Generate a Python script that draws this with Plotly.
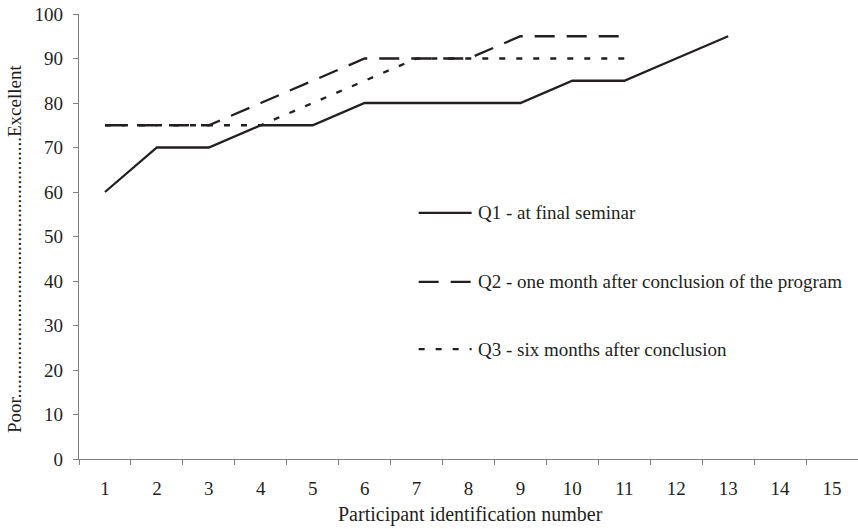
import plotly.graph_objects as go

participants = [str(i) for i in range(1, 16)]
q1_x = [str(i) for i in range(1, 14)]
q1 = [60, 70, 70, 75, 75, 80, 80, 80, 80, 85, 85, 90, 95]
q2_x = [str(i) for i in range(1, 12)]
q2 = [75, 75, 75, 80, 85, 90, 90, 90, 95, 95, 95]
q3_x = [str(i) for i in range(1, 12)]
q3 = [75, 75, 75, 75, 80, 85, 90, 90, 90, 90, 90]
y_ticks = list(range(0, 101, 10))

names = ["Q1 - at final seminar",
         "Q2 - one month after conclusion of the program",
         "Q3 - six months after conclusion"]
dashes = ["solid", "20px,12px", "6px,11px"]
ink = "#231f20"
FONT = "Liberation Serif"

fig = go.Figure()
for xs, ys, nm, d in [(q1_x, q1, names[0], dashes[0]),
                      (q2_x, q2, names[1], dashes[1]),
                      (q3_x, q3, names[2], dashes[2])]:
    fig.add_trace(go.Scatter(x=xs, y=ys, mode="lines", name=nm,
                             line=dict(color=ink, width=2.3, dash=d),
                             showlegend=False))

# legend drawn inside plot area
leg_y = [0.553, 0.398, 0.247]
shapes = []
annotations = []
for nm, d, yy in zip(names, dashes, leg_y):
    shapes.append(dict(type="line", xref="paper", yref="paper",
                       x0=0.436, x1=0.504, y0=yy, y1=yy,
                       line=dict(color=ink, width=2.3, dash=d)))
    annotations.append(dict(xref="paper", yref="paper", x=0.509, y=yy,
                            text=nm, showarrow=False, xanchor="left",
                            yanchor="middle",
                            font=dict(family=FONT, size=19, color=ink)))

dots = "." * 55
annotations.append(dict(xref="paper", yref="paper", x=0.503, y=-0.125,
                        text="Participant identification number", showarrow=False,
                        xanchor="center", yanchor="middle",
                        font=dict(family=FONT, size=20, color=ink)))
annotations.append(dict(xref="paper", yref="paper", x=-0.082, y=0.472,
                        text="Poor" + dots + "Excellent", showarrow=False,
                        textangle=-90, xanchor="center", yanchor="middle",
                        font=dict(family=FONT, size=19, color=ink)))

fig.update_layout(
    width=858, height=529,
    margin=dict(l=79, r=0, t=14, b=70),
    paper_bgcolor="white", plot_bgcolor="white",
    font=dict(family=FONT, size=19, color=ink),
    shapes=shapes, annotations=annotations,
    xaxis=dict(type="category", categoryorder="array", categoryarray=participants,
               range=[-0.5, 14.5], tickson="boundaries", ticks="outside",
               ticklen=5, tickcolor="#808080", showline=True, linecolor="#808080",
               linewidth=1.3, showgrid=False, zeroline=False, automargin=False,
               ticklabelstandoff=12,
               tickfont=dict(family=FONT, size=19)),
    yaxis=dict(range=[0, 100], tickvals=y_ticks, ticks="outside", ticklen=5,
               tickcolor="#808080", showline=True, linecolor="#808080",
               linewidth=1.3, showgrid=False, zeroline=False, automargin=False,
               ticklabelstandoff=6,
               tickfont=dict(family=FONT, size=19)),
)
fig.write_html("out.html", config={"responsive": False, "displayModeBar": False},
               post_script="document.body.style.margin='0';document.body.style.overflow='hidden';")
